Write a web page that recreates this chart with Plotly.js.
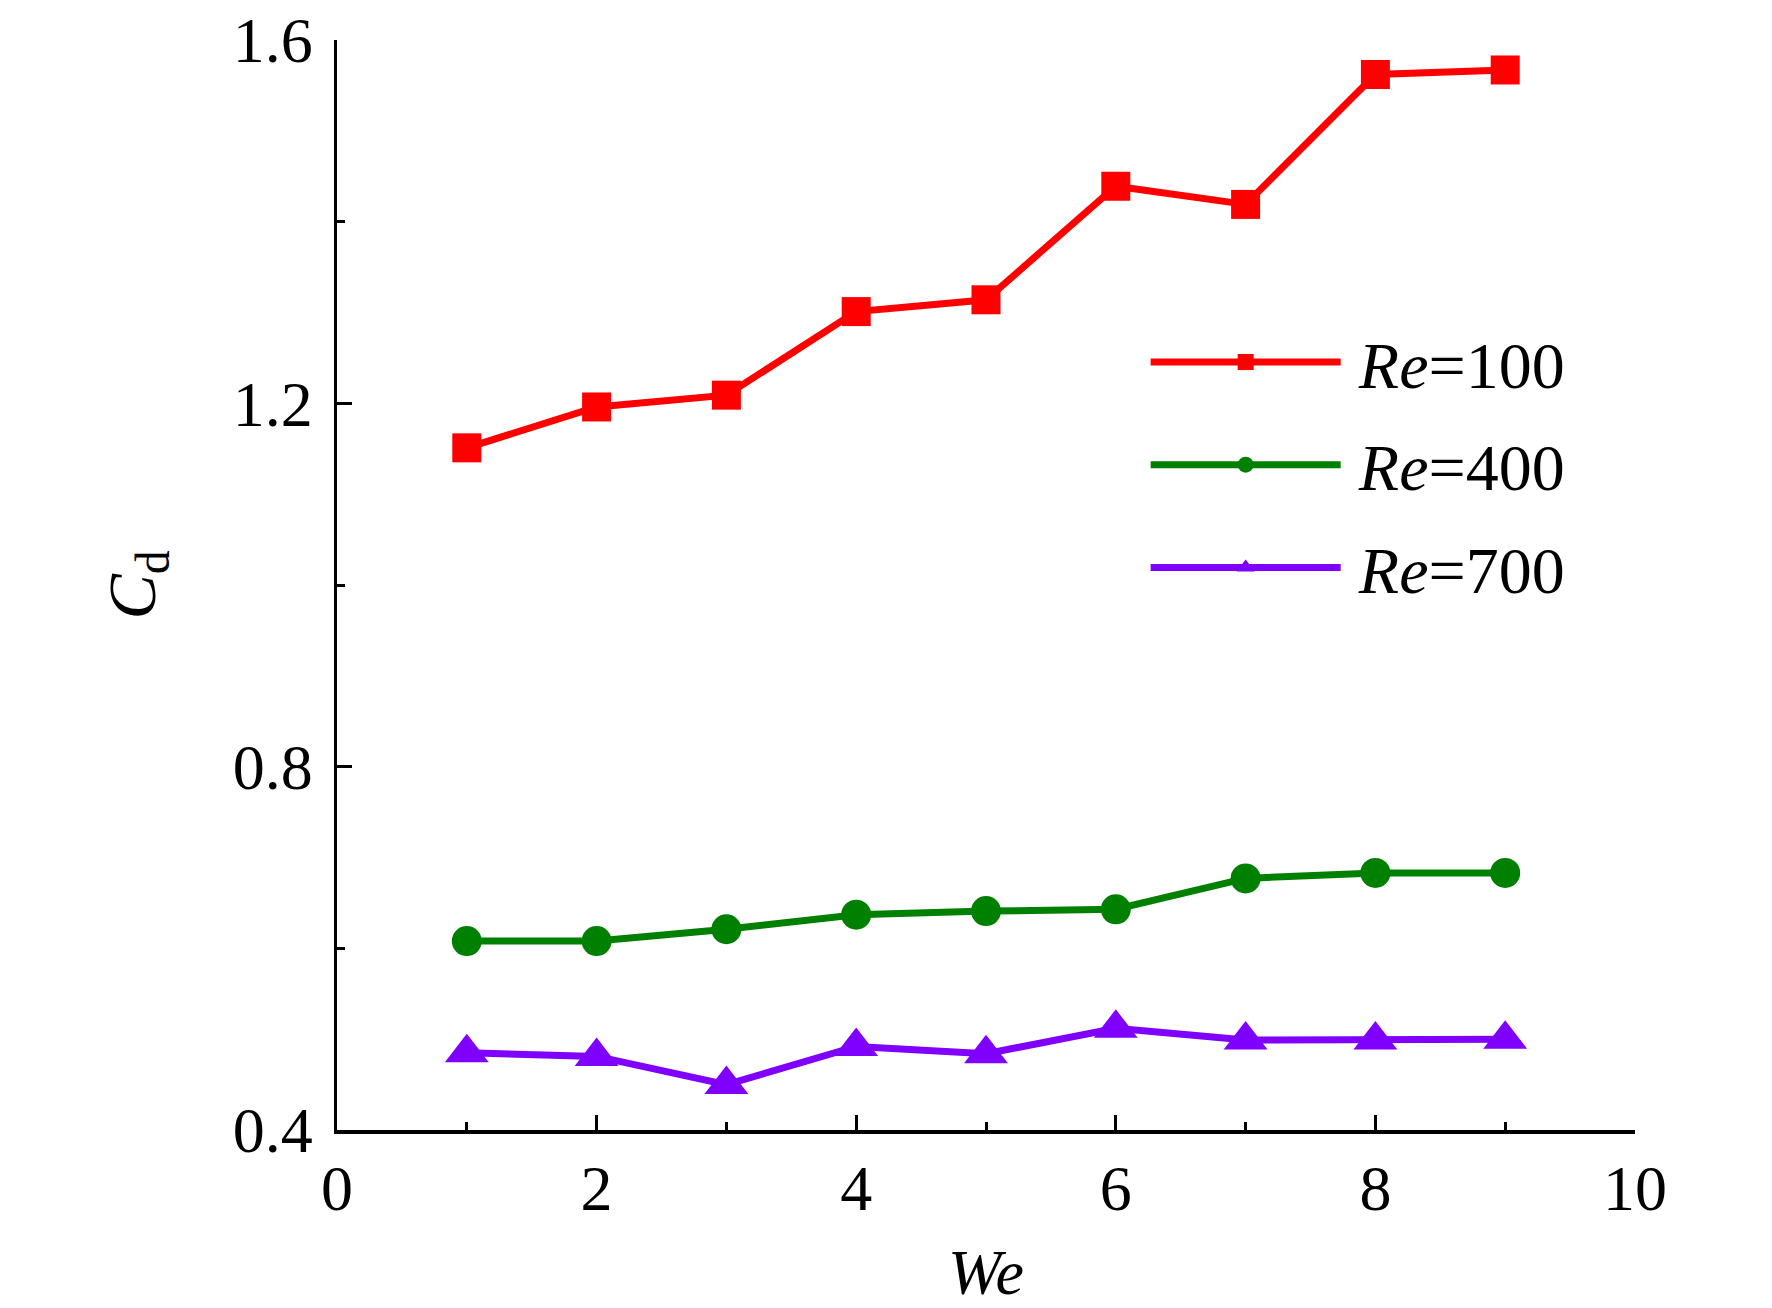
<!DOCTYPE html>
<html>
<head>
<meta charset="utf-8">
<script src="https://cdn.plot.ly/plotly-3.0.1.min.js"></script>
<style>
  html, body { margin: 0; padding: 0; background: #ffffff; }
  #chart { width: 1772px; height: 1308px; }
</style>
</head>
<body>
<div id="chart"></div>
<script>
/* ── data ─────────────────────────────────────────────────── */
const weValues = [1, 2, 3, 4, 5, 6, 7, 8, 9];
const cdRe100  = [1.151, 1.196, 1.209, 1.301, 1.314, 1.439, 1.419, 1.562, 1.567];
const cdRe400  = [0.608, 0.608, 0.621, 0.637, 0.641, 0.643, 0.677, 0.683, 0.683];
const cdRe700  = [0.485, 0.481, 0.450, 0.492, 0.484, 0.512, 0.499, 0.499, 0.500];
const seriesNames = ["\u2009<i>Re</i>=100", "\u2009<i>Re</i>=400", "\u2009<i>Re</i>=700"];

/* ── colours ─────────────────────────────────────────────── */
const colors = {
    red    : "#ff0000",
    green  : "#008000",
    purple : "#8000ff",
    black  : "#000000"
};

const serif = "Liberation Serif, Times New Roman, serif";

function makeTrace(y, name, color, symbol, size, group) {
    return {
        x: weValues,
        y: y,
        type: "scatter",
        mode: "lines+markers",
        name: name,
        legendgroup: group,
        line: { color: color, width: 7 },
        marker: { color: color, symbol: symbol, size: size }
    };
}

const traces = [
    makeTrace(cdRe100, seriesNames[0], colors.red,    "square",      29, "a"),
    makeTrace(cdRe400, seriesNames[1], colors.green,  "circle",      30, "b"),
    makeTrace(cdRe700, seriesNames[2], colors.purple, "triangle-up", 38, "c")
];

const axisCommon = {
    showline: true,
    linecolor: colors.black,
    linewidth: 3.5,
    showgrid: false,
    zeroline: false,
    ticks: "inside",
    ticklen: 15,
    tickwidth: 3,
    tickcolor: colors.black,
    tickfont: { family: serif, size: 64, color: colors.black }
};

const layout = {
    width: 1772,
    height: 1308,
    margin: { l: 337, r: 137, t: 40, b: 178 },
    paper_bgcolor: "#ffffff",
    plot_bgcolor: "#ffffff",
    font: { family: serif, color: colors.black },
    showlegend: true,
    legend: {
        x: 0.623,
        y: 0.75,
        xanchor: "left",
        yanchor: "top",
        bgcolor: "rgba(0,0,0,0)",
        font: { family: serif, size: 66, color: colors.black },
        itemwidth: 190,
        traceorder: "grouped",
        tracegroupgap: 14
    },
    xaxis: {
        ...axisCommon,
        range: [0, 10],
        dtick: 2,
        tick0: 0,
        ticklabelstandoff: 0,
        minor: { dtick: 1, ticks: "inside", ticklen: 8, tickwidth: 3, tickcolor: colors.black },
        title: {
            text: "<i>We</i>",
            font: { family: serif, size: 64, color: colors.black },
            standoff: 40
        }
    },
    yaxis: {
        ...axisCommon,
        range: [0.4, 1.6],
        dtick: 0.4,
        tick0: 0.4,
        tickformat: ".1f",
        ticklabelstandoff: 8,
        minor: { dtick: 0.2, ticks: "inside", ticklen: 8, tickwidth: 3, tickcolor: colors.black },
        title: {
            text: "<i>C</i><sub>d</sub>",
            font: { family: serif, size: 68, color: colors.black },
            standoff: 56
        }
    }
};

Plotly.newPlot("chart", traces, layout, { displayModeBar: false, staticPlot: true });
</script>
</body>
</html>
